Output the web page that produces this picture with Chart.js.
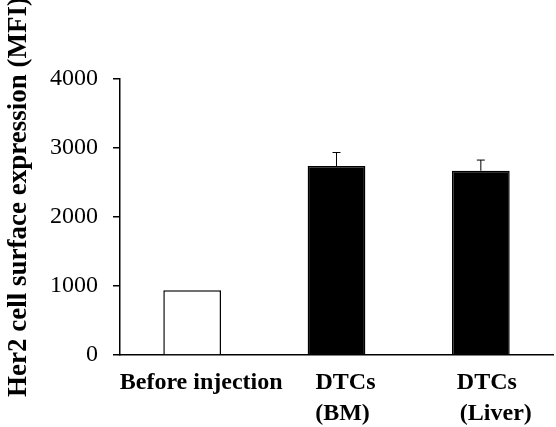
<!DOCTYPE html>
<html>
<head>
<meta charset="utf-8">
<script src="https://cdn.jsdelivr.net/npm/chart.js@4"></script>
<style>
  html, body { margin: 0; padding: 0; background: #fff; }
  #wrap { width: 556px; height: 427px; }
</style>
</head>
<body>
<div id="wrap"><canvas id="myChart" width="556" height="427"></canvas></div>
<script>
// values
// (extra spaces keep the two-line labels left-aligned like the original)
var categories = [["Before injection"], ["DTCs", "(BM) "], ["  DTCs   ", "  (Liver)"]];
var mfi = [940, 2740, 2670];
var mfiErr = [0, 195, 155];
var barColors = ["#ffffff", "#000000", "#000000"];
var yTicks = [0, 1000, 2000, 3000, 4000];
var yTitle = "Her2 cell surface expression (MFI)";

// error bars (only upper whisker, like the original)
var errorBars = {
  id: "errorBars",
  afterDatasetsDraw: function (chart) {
    var ctx = chart.ctx;
    var meta = chart.getDatasetMeta(0);
    var y = chart.scales.y;
    ctx.save();
    ctx.strokeStyle = "#000";
    ctx.lineWidth = 1;
    meta.data.forEach(function (bar, i) {
      if (!mfiErr[i]) return;
      var top = y.getPixelForValue(mfi[i] + mfiErr[i]);
      ctx.beginPath();
      ctx.moveTo(bar.x, bar.y);
      ctx.lineTo(bar.x, top);
      ctx.moveTo(bar.x - 4, top);
      ctx.lineTo(bar.x + 4, top);
      ctx.stroke();
    });
    ctx.restore();
  }
};

// y title drawn by hand so it can sit a bit higher than centre
var sideTitle = {
  id: "sideTitle",
  afterDraw: function (chart) {
    var ctx = chart.ctx;
    ctx.save();
    ctx.translate(19, 197);
    ctx.rotate(-Math.PI / 2);
    ctx.font = "bold 27px 'Liberation Serif', 'Times New Roman', serif";
    ctx.fillStyle = "#000";
    ctx.textAlign = "center";
    ctx.textBaseline = "middle";
    ctx.fillText(yTitle, 0, 0);
    ctx.restore();
  }
};

new Chart(document.getElementById("myChart"), {
  type: "bar",
  data: {
    labels: categories,
    datasets: [{
      data: mfi,
      backgroundColor: barColors,
      borderColor: "#000",
      borderWidth: 1.5,
      categoryPercentage: 1,
      barPercentage: 0.4
    }]
  },
  options: {
    responsive: false,
    animation: false,
    layout: { padding: { top: 79, right: 3, left: 0, bottom: 0 } },
    plugins: { legend: { display: false }, tooltip: { enabled: false } },
    scales: {
      x: {
        grid: { display: false },
        border: { color: "#000", width: 1.5 },
        ticks: {
          color: "#000",
          maxRotation: 0,
          autoSkip: false,
          padding: 4,
          labelOffset: 9,
          font: { family: "'Liberation Serif', serif", size: 24, weight: "bold", lineHeight: 1.3 }
        },
        afterFit: function (s) { s.height = 72; }
      },
      y: {
        min: 0,
        max: 4000,
        afterBuildTicks: function (s) { s.ticks = yTicks.map(function (v) { return { value: v }; }); },
        grid: { drawOnChartArea: false, drawTicks: true, tickLength: 7, color: "#000", lineWidth: 1.5 },
        border: { color: "#000", width: 1.5 },
        ticks: {
          color: "#000",
          padding: 15,
          callback: function (v) { return String(v); },
          font: { family: "'Liberation Serif', serif", size: 24 }
        },
        afterFit: function (s) { s.width = 120; }
      }
    }
  },
  plugins: [errorBars, sideTitle]
});
</script>
</body>
</html>
